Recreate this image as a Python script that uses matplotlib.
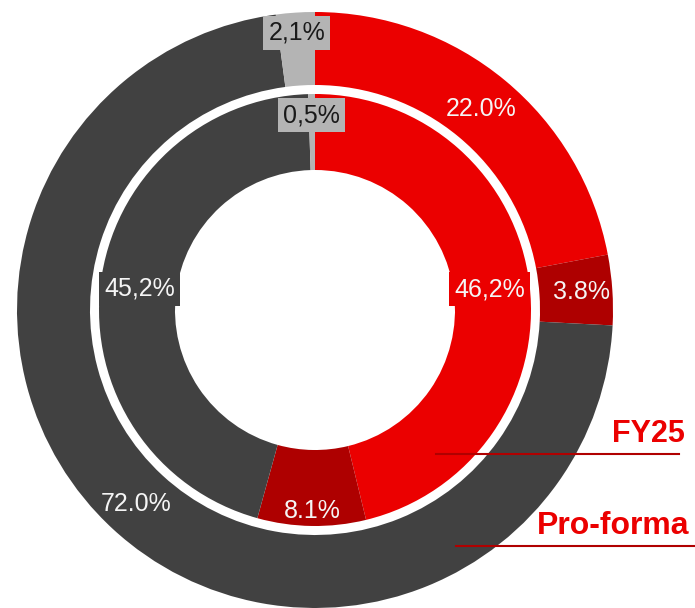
import numpy as np
import matplotlib.pyplot as plt

plt.rcParams['font.family'] = ['Liberation Sans', 'DejaVu Sans']

## data
outer_labels = ['22.0%', '3.8%', '72.0%', '2,1%']
outer_values = [22.0, 3.8, 72.0, 2.1]
inner_labels = ['46,2%', '8.1%', '45,2%', '0,5%']
inner_values = [46.2, 8.1, 45.2, 0.5]
ring_names = ['FY25', 'Pro-forma']

colors = ['#EB0000', '#AE0000', '#414141', '#B4B4B4']
text_colors = ['#F5F5F5', '#F5F5F5', '#F5F5F5', '#1A1A1A']

## layout (pixels)
W, H = 695, 608
cx, cy = 315, H - 310
r_out, w_out = 298, 73
r_in, w_in = 216, 76
outer_lab_r = [261, 267, 264, 278]
inner_lab_r = [176, 201, 177, 195]
outer_boxed = [False, False, False, True]
inner_boxed = [True, False, True, True]

fig = plt.figure(figsize=(W / 100, H / 100), dpi=100)
ax = fig.add_axes([0, 0, 1, 1])


def ring(values, labels, radius, width, lab_r, boxed):
    wedges, _ = ax.pie(values, colors=colors, radius=radius, center=(cx, cy),
                       startangle=90, counterclock=False, frame=True,
                       wedgeprops=dict(width=width, linewidth=0))
    for w, lab, r, tc, b in zip(wedges, labels, lab_r, text_colors, boxed):
        ang = np.deg2rad((w.theta1 + w.theta2) / 2)
        box = dict(boxstyle='square,pad=0.2', fc=w.get_facecolor(), ec='none') if b else None
        ax.text(cx + r * np.cos(ang), cy + r * np.sin(ang), lab,
                ha='center', va='center', fontsize=18, color=tc, bbox=box)


ring(outer_values, outer_labels, r_out, w_out, outer_lab_r, outer_boxed)
ring(inner_values, inner_labels, r_in, w_in, inner_lab_r, inner_boxed)

ax.set_xlim(0, W)
ax.set_ylim(0, H)
ax.set_aspect('equal')
ax.axis('off')

## ring legends with leader lines
ax.text(612, H - 434, ring_names[0], fontsize=22, fontweight='bold', color='#EB0000',
        ha='left', va='center')
ax.plot([436, 679], [H - 454, H - 454], color='#B00000', lw=1.5)
ax.text(537, H - 526, ring_names[1], fontsize=23, fontweight='bold', color='#EB0000',
        ha='left', va='center')
ax.plot([456, 700], [H - 546, H - 546], color='#B00000', lw=1.5)

plt.savefig('out.png', dpi=100)
